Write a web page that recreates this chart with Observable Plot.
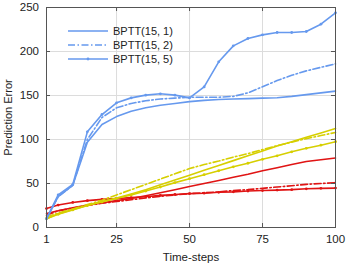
<!DOCTYPE html>
<html><head><meta charset="utf-8">
<script src="https://cdn.jsdelivr.net/npm/d3@7"></script>
<script src="https://cdn.jsdelivr.net/npm/@observablehq/plot@0.6"></script>
<style>html,body{margin:0;padding:0;background:#fff} svg{display:block}</style>
</head><body><div id="chart"></div>
<script>
// ---- data ----
const steps = [1,5,10,15,20,25,30,35,40,45,50,55,60,65,70,75,80,85,90,95,100];
const xTicks = [1,25,50,75,100];
const yTicks = [0,50,100,150,200,250];

const blue1 = [10,35,48,97,117,126,132,136,139,141,143,144.5,145.5,146,146.5,147,147.5,149,151,153,155];
const blue2 = [10,35,48,100,125,136,141,144,146,147,148,148,148,149,153,160,167,173,178,182,186];
const blue5 = [10,37,49,108.7,128.4,141.7,147.3,150.4,151.9,150.4,147.3,159.8,188.3,206.4,214.8,218.9,221.6,221.6,222.7,231,243.9];

const yellow1 = [10,15.5,20.5,25,29.5,33.5,38,43,48.5,54,59.5,65,70.5,76,81.5,87,92.5,97.5,102.5,107.5,112.5];
const yellow2 = [12,16.5,21,26,31,37,43,49,55,61,67,71.5,75.5,80,84,88.5,93,97,101,104.5,108];
const yellow5 = [10,15,20,25,29,33,37,41.5,46,51,55.5,60,64.5,69,73,77.5,81.5,86,90,93.5,97.5];

const red1 = [16,19,22.5,25.5,28,30.5,33,36,39.5,43,46.5,50,53.5,57,60.5,64.5,68,71.5,75,77,79];
const red2 = [14,19,22,25,27.5,29.5,31.5,33.5,35.5,37,38.5,39.5,40.5,42,43,44.5,46,47.5,49,50,51];
const red5 = [21.5,25.5,28.5,30.5,32,33,34,35,36.5,37.5,38.5,39,40,40.5,41.5,42,42.5,43,44,44.5,44.8];

const legendLabels = ["BPTT(15, 1)","BPTT(15, 2)","BPTT(15, 5)"];
const xLabel = "Time-steps";
const yLabel = "Prediction Error";

// ---- styling ----
const BLUE = "#6699ee", YELLOW = "#d6cf00", RED = "#e01414";
const DASHDOT = "7,2.5,1.5,2.5";
const W = 347, H = 263, mL = 46, mR = 12, mT = 7, mB = 36;
const pW = W - mL - mR, pH = H - mT - mB;
const FONT = "'Liberation Sans', Arial, Helvetica, sans-serif";

const rows = vals => steps.map((x, i) => ({x, y: vals[i]}));

function seriesMarks(vals, color, kind) {
  const d = rows(vals);
  const marks = [Plot.line(d, {x: "x", y: "y", stroke: color, strokeWidth: 1.6,
    strokeDasharray: kind === "dashdot" ? DASHDOT : null})];
  if (kind === "marker") marks.push(Plot.dot(d, {x: "x", y: "y", r: 1.4, fill: color, stroke: "none"}));
  return marks;
}

const plot = Plot.plot({
  width: W, height: H,
  marginLeft: mL, marginRight: mR, marginTop: mT, marginBottom: mB,
  style: {fontFamily: FONT, fontSize: "11.5px", color: "#222", background: "#fff"},
  x: {domain: [1, 100]},
  y: {domain: [0, 250]},
  marks: [
    Plot.gridX(xTicks, {stroke: "#dcdcdc", strokeOpacity: 1}),
    Plot.gridY(yTicks, {stroke: "#dcdcdc", strokeOpacity: 1}),
    ...seriesMarks(red1, RED, "solid"),
    ...seriesMarks(red2, RED, "dashdot"),
    ...seriesMarks(red5, RED, "marker"),
    ...seriesMarks(yellow1, YELLOW, "solid"),
    ...seriesMarks(yellow2, YELLOW, "dashdot"),
    ...seriesMarks(yellow5, YELLOW, "marker"),
    ...seriesMarks(blue1, BLUE, "solid"),
    ...seriesMarks(blue2, BLUE, "dashdot"),
    ...seriesMarks(blue5, BLUE, "marker"),
    Plot.frame({stroke: "#555"}),
    Plot.tickX(xTicks, {x: d => d, insetTop: pH - 4, stroke: "#555"}),
    Plot.tickX(xTicks, {x: d => d, insetBottom: pH - 4, stroke: "#555"}),
    Plot.tickY(yTicks, {y: d => d, insetRight: pW - 4, stroke: "#555"}),
    Plot.tickY(yTicks, {y: d => d, insetLeft: pW - 4, stroke: "#555"}),
    Plot.axisX(xTicks, {tickSize: 0, tickPadding: 7, label: null, fill: "#222"}),
    Plot.axisY(yTicks, {tickSize: 0, tickPadding: 7.5, label: null, fill: "#222"}),
    Plot.text([xLabel], {frameAnchor: "bottom", dy: 30, lineAnchor: "middle", textAnchor: "middle", fontSize: 11.5, fill: "#222"}),
    Plot.text([yLabel], {frameAnchor: "left", dx: -38, rotate: -90, textAnchor: "middle", lineAnchor: "middle", fontSize: 11, fill: "#222"})
  ]
});

// ---- legend (inside plot, top-left) ----
const svg = d3.select(plot);
const lg = svg.append("g").attr("font-family", FONT).attr("font-size", 11)
  .attr("fill", "#222").attr("text-anchor", "start");
const kinds = ["solid", "dashdot", "marker"];
legendLabels.forEach((lab, i) => {
  const y = 31 + i * 14;
  lg.append("line").attr("x1", 68).attr("x2", 108).attr("y1", y).attr("y2", y)
    .attr("stroke", BLUE).attr("stroke-width", 1.6)
    .attr("stroke-dasharray", kinds[i] === "dashdot" ? DASHDOT : null);
  if (kinds[i] === "marker") lg.append("circle").attr("cx", 88).attr("cy", y).attr("r", 1.4).attr("fill", BLUE);
  lg.append("text").attr("x", 113).attr("y", y).attr("dy", "0.35em")
    .attr("text-anchor", "start").text(lab);
});

document.getElementById("chart").appendChild(plot);
</script>
</body></html>
